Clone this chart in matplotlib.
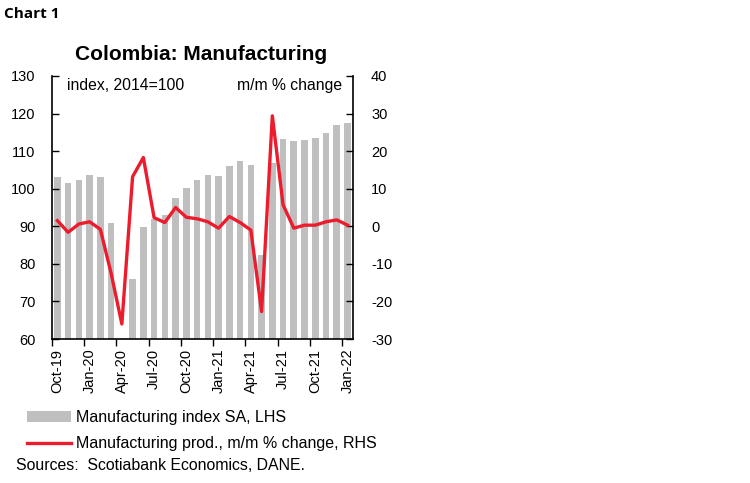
import numpy as np
import matplotlib.pyplot as plt
from matplotlib.patches import Patch
from matplotlib.lines import Line2D

plt.rcParams['font.family'] = ['Liberation Sans', 'DejaVu Sans']
plt.rcParams['axes.unicode_minus'] = False

# monthly, Oct-19 .. Jan-22
months = ['Oct-19', 'Nov-19', 'Dec-19', 'Jan-20', 'Feb-20', 'Mar-20', 'Apr-20',
          'May-20', 'Jun-20', 'Jul-20', 'Aug-20', 'Sep-20', 'Oct-20', 'Nov-20',
          'Dec-20', 'Jan-21', 'Feb-21', 'Mar-21', 'Apr-21', 'May-21', 'Jun-21',
          'Jul-21', 'Aug-21', 'Sep-21', 'Oct-21', 'Nov-21', 'Dec-21', 'Jan-22']

# manufacturing index SA (LHS); Apr-20 bar is not shown in the original
index_sa = [103.0, 101.4, 102.2, 103.6, 103.0, 91.0, np.nan,
            75.9, 89.7, 91.9, 93.0, 97.6, 100.2, 102.3,
            103.7, 103.4, 106.1, 107.4, 106.3, 82.4, 106.8,
            113.1, 112.6, 113.0, 113.5, 114.9, 116.9, 117.6]

# m/m % change (RHS)
mom_change = [1.5, -1.6, 0.6, 1.2, -0.8, -12.5, -26.0,
              13.2, 18.3, 2.3, 1.0, 5.0, 2.4, 2.0,
              1.2, -0.5, 2.6, 1.0, -1.0, -22.7, 29.4,
              5.7, -0.5, 0.3, 0.3, 1.2, 1.7, 0.3]

gray = '#bfbfbf'
red = '#ec1c2d'

fig = plt.figure(figsize=(7.5, 4.83), dpi=100)
ax = fig.add_axes([0.0693, 0.2981, 0.4013, 0.5446])

x = np.arange(len(months))
ax.bar(x, index_sa, width=0.62, color=gray, zorder=1)
ax.set_ylim(60, 130)
ax.set_xlim(-0.5, len(months) - 0.5)
ax.set_yticks(np.arange(60, 131, 10))

ax2 = ax.twinx()
ax2.plot(x, mom_change, color=red, lw=2.4, zorder=3)
ax2.set_ylim(-30, 40)
ax2.set_yticks(np.arange(-30, 41, 10))

# category ticks every 3 months, labels centred on the category
ax.set_xticks(x[::3])
ax.set_xticklabels(months[::3], rotation=90)
ax.set_xticks(x[::3] - 0.5, minor=True)
ax.tick_params(axis='x', which='major', length=0, pad=7, labelsize=10.5)
ax.tick_params(axis='x', which='minor', length=5, width=1, direction='out')
ax.tick_params(axis='y', direction='in', length=5, width=1, pad=12, labelsize=10.5)
ax2.tick_params(axis='y', direction='in', length=5, width=1, pad=13, labelsize=10.5)

for a in (ax, ax2):
    a.spines['top'].set_visible(False)
    for s in ('left', 'right', 'bottom'):
        a.spines[s].set_linewidth(1.2)
ax.spines['right'].set_visible(False)
ax2.spines['left'].set_visible(False)
ax2.spines['bottom'].set_visible(False)

ax.text(0.05, 0.965, 'index, 2014=100', transform=ax.transAxes,
        fontsize=11.3, ha='left', va='center')
ax.text(0.965, 0.965, 'm/m % change', transform=ax.transAxes,
        fontsize=11.3, ha='right', va='center')

fig.text(0.268, 1 - 55 / 483, 'Colombia: Manufacturing', fontsize=15,
         fontweight='bold', ha='center', va='center')
fig.text(0.005, 1 - 14 / 483, 'Chart 1', fontsize=11, fontweight='bold',
         family=['Open Sans', 'DejaVu Sans'], ha='left', va='center')

handles = [Patch(facecolor=gray, edgecolor='none'),
           Line2D([0], [0], color=red, lw=2.4)]
labels = ['Manufacturing index SA, LHS',
          'Manufacturing prod., m/m % change, RHS']
fig.legend(handles, labels, loc='upper left', bbox_to_anchor=(0.036, 1 - 410 / 483),
           frameon=False, fontsize=11.5, handlelength=2.75, handletextpad=0.32,
           labelspacing=0.7, borderpad=0, borderaxespad=0)

fig.text(0.022, 1 - 465 / 483, 'Sources:  Scotiabank Economics, DANE.',
         fontsize=11.4, ha='left', va='center')

fig.savefig('out.png', dpi=100)
